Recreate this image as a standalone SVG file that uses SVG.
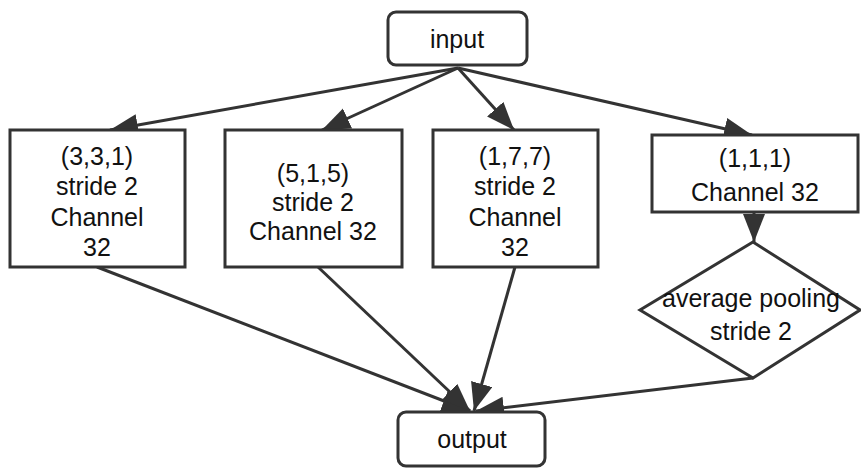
<svg xmlns="http://www.w3.org/2000/svg" width="861" height="468" viewBox="0 0 861 468">
<style>
.box{fill:#fff;stroke:#333;stroke-width:3}
.edge{fill:none;stroke:#333;stroke-width:3}
text{font-family:"Liberation Sans",Arial,sans-serif;font-size:25px;fill:#111;text-anchor:middle}
</style>
<defs>
<marker id="ah" markerUnits="userSpaceOnUse" markerWidth="30" markerHeight="24" refX="28" refY="11" orient="auto">
<path d="M0,0 L28,11 L0,22 Z" fill="#333"/>
</marker>
</defs>
<rect width="861" height="468" fill="#fff"/>
<g id="connectors">
<line class="edge" x1="458" y1="68" x2="110" y2="130" marker-end="url(#ah)"/>
<line class="edge" x1="458" y1="68" x2="322" y2="130" marker-end="url(#ah)"/>
<line class="edge" x1="458" y1="68" x2="514" y2="130" marker-end="url(#ah)"/>
<line class="edge" x1="458" y1="68" x2="752" y2="135" marker-end="url(#ah)"/>
<line class="edge" x1="754" y1="212" x2="754" y2="242" marker-end="url(#ah)"/>
<line class="edge" x1="97" y1="267" x2="470" y2="411" marker-end="url(#ah)"/>
<line class="edge" x1="318" y1="267" x2="470" y2="411" marker-end="url(#ah)"/>
<line class="edge" x1="515" y1="267" x2="474" y2="411" marker-end="url(#ah)"/>
<line class="edge" x1="753" y1="378" x2="476" y2="411" marker-end="url(#ah)"/>
</g>
<g id="input">
<rect class="box" x="388" y="12" width="139" height="53" rx="8"/>
<text x="457" y="48">input</text>
</g>
<g id="conv331">
<rect class="box" x="10" y="130" width="175" height="137"/>
<text x="97" y="165">(3,3,1)</text>
<text x="97" y="195">stride 2</text>
<text x="97" y="226">Channel</text>
<text x="97" y="256">32</text>
</g>
<g id="conv515">
<rect class="box" x="225" y="130" width="177" height="137"/>
<text x="313" y="182">(5,1,5)</text>
<text x="313" y="211">stride 2</text>
<text x="313" y="240">Channel 32</text>
</g>
<g id="conv177">
<rect class="box" x="433" y="130" width="165" height="137"/>
<text x="515" y="165">(1,7,7)</text>
<text x="515" y="195">stride 2</text>
<text x="515" y="226">Channel</text>
<text x="515" y="256">32</text>
</g>
<g id="conv111">
<rect class="box" x="652" y="135" width="206" height="77"/>
<text x="755" y="167">(1,1,1)</text>
<text x="755" y="201">Channel 32</text>
</g>
<g id="pooling">
<polygon class="box" points="753,242 860,310 753,378 640,310"/>
<text x="751" y="307">average pooling</text>
<text x="751" y="340">stride 2</text>
</g>
<g id="output">
<rect class="box" x="398" y="412" width="147" height="54" rx="8"/>
<text x="472" y="448">output</text>
</g>
</svg>
